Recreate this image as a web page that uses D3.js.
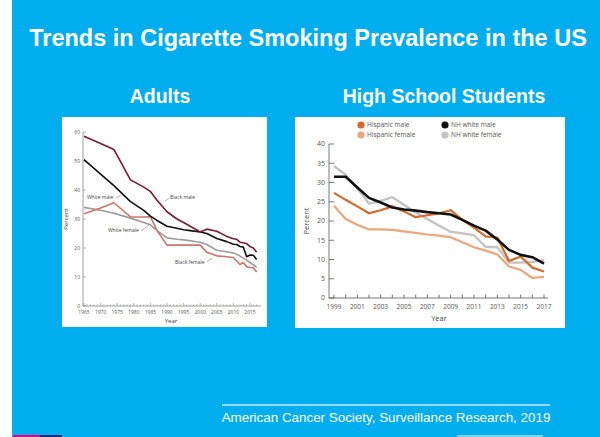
<!DOCTYPE html>
<html>
<head>
<meta charset="utf-8">
<script src="https://cdn.jsdelivr.net/npm/d3@7"></script>
<style>
  body { margin: 0; background: #fff; }
  svg { display: block; }
</style>
</head>
<body>
<svg width="600" height="437"></svg>
<script>
// adults panel (1965-2017)
const adultYears = [1965, 1970, 1974, 1979, 1983, 1985, 1987, 1990, 1993, 1995, 1997, 2000, 2002, 2005, 2008, 2010, 2011, 2012, 2013, 2014, 2015, 2016, 2017];
const blackMale   = [58.5, 56.0, 54.0, 43.5, 41.0, 39.5, 36.5, 32.5, 30.0, 28.8, 27.5, 25.5, 26.5, 25.8, 24.0, 23.2, 23.0, 22.0, 21.8, 21.5, 20.5, 20.0, 18.5];
const whiteMale   = [50.5, 45.5, 41.5, 36.0, 33.0, 31.0, 29.5, 27.5, 26.8, 26.3, 26.0, 25.5, 25.0, 23.3, 22.2, 21.3, 21.2, 20.5, 20.3, 17.0, 17.6, 17.5, 16.0];
const whiteFemale = [34.0, 33.0, 32.0, 30.3, 28.8, 28.0, 26.0, 23.5, 23.0, 22.8, 22.5, 22.0, 21.2, 19.2, 18.7, 18.3, 17.8, 17.2, 16.5, 15.8, 15.0, 14.2, 13.3];
const blackFemale = [31.8, 33.8, 35.6, 30.7, 30.7, 30.8, 26.0, 21.0, 21.0, 21.0, 21.0, 21.0, 18.5, 17.3, 17.0, 16.7, 15.5, 14.3, 15.0, 13.5, 13.3, 13.2, 11.7];
const adultXTicks = [1965, 1970, 1975, 1980, 1985, 1990, 1995, 2000, 2005, 2010, 2015];
const adultYTicks = [0, 10, 20, 30, 40, 50, 60];

// high school panel (1999-2017)
const hsYears = d3.range(1999, 2018);
const hispMale   = [27.3, 25.5, 23.8, 22.0, 22.8, 23.8, 22.5, 21.0, 21.5, 22.0, 22.8, 20.3, 18.3, 16.0, 15.7, 9.6, 10.8, 7.9, 6.9];
const hispFemale = [24.0, 20.5, 19.0, 17.8, 17.8, 17.7, 17.3, 16.9, 16.5, 16.2, 15.8, 14.5, 13.2, 12.3, 11.3, 8.2, 7.3, 5.2, 5.5];
const nhwMale    = [31.5, 31.5, 28.7, 26.0, 24.8, 23.5, 23.0, 22.7, 22.3, 22.0, 21.7, 20.3, 18.8, 17.5, 15.2, 12.5, 11.2, 10.6, 8.9];
const nhwFemale  = [34.3, 32.0, 28.5, 24.5, 25.2, 26.2, 24.2, 22.2, 20.5, 18.8, 17.2, 16.8, 16.3, 13.3, 13.2, 9.2, 9.2, 9.4, 9.8];
const hsXTicks = [1999, 2001, 2003, 2005, 2007, 2009, 2011, 2013, 2015, 2017];
const hsYTicks = [0, 5, 10, 15, 20, 25, 30, 35, 40];

const svg = d3.select("svg");
const chartFont = "'Open Sans', 'DejaVu Sans', sans-serif";
const titleFont = "'Liberation Sans', Arial, sans-serif";

// slide background
svg.append("rect").attr("x", 12).attr("y", 0).attr("width", 588).attr("height", 437).attr("fill", "#00adee");
svg.append("rect").attr("x", 13).attr("y", 435).attr("width", 27).attr("height", 2).attr("fill", "#e4007c");
svg.append("rect").attr("x", 40).attr("y", 435).attr("width", 22).attr("height", 2).attr("fill", "#1d2a7a");
svg.append("rect").attr("x", 457).attr("y", 435).attr("width", 86).attr("height", 2).attr("fill", "#7fd3f5");

svg.append("text").attr("x", 308).attr("y", 46).attr("text-anchor", "middle")
    .attr("font-family", titleFont).attr("font-weight", "bold").attr("font-size", 23.5)
    .attr("fill", "#fff").text("Trends in Cigarette Smoking Prevalence in the US");
svg.append("text").attr("x", 160).attr("y", 103).attr("text-anchor", "middle")
    .attr("font-family", titleFont).attr("font-weight", "bold").attr("font-size", 19.5)
    .attr("fill", "#fff").text("Adults");
svg.append("text").attr("x", 444).attr("y", 103).attr("text-anchor", "middle")
    .attr("font-family", titleFont).attr("font-weight", "bold").attr("font-size", 19.5)
    .attr("fill", "#fff").text("High School Students");

// footer
svg.append("line").attr("x1", 222).attr("x2", 550).attr("y1", 405).attr("y2", 405)
    .attr("stroke", "#c8ecfb").attr("stroke-width", 1.5);
svg.append("text").attr("x", 386).attr("y", 422).attr("text-anchor", "middle")
    .attr("font-family", titleFont).attr("font-size", 13.4).attr("fill", "#fff")
    .text("American Cancer Society, Surveillance Research, 2019");

// white panels
svg.append("rect").attr("x", 62).attr("y", 117).attr("width", 205).attr("height", 210).attr("fill", "#fff");
svg.append("rect").attr("x", 295).attr("y", 117).attr("width", 270).attr("height", 211).attr("fill", "#fff");

// ---------- adults ----------
const ax = d3.scaleLinear().domain([1965, 2015]).range([84, 250]);
const ay = d3.scaleLinear().domain([0, 60]).range([306, 132]);
const adults = svg.append("g");

adults.append("line").attr("x1", 83).attr("x2", 83).attr("y1", ay(60)).attr("y2", ay(0)).attr("stroke", "#888").attr("stroke-width", 0.8);
adults.append("line").attr("x1", 83).attr("x2", 261).attr("y1", ay(0)).attr("y2", ay(0)).attr("stroke", "#888").attr("stroke-width", 0.8);
adults.selectAll(".minor").data(d3.range(1965, 2018)).join("line")
    .attr("x1", d => ax(d)).attr("x2", d => ax(d))
    .attr("y1", ay(0)).attr("y2", d => ay(0) - (d % 5 === 0 ? 3 : 1.6))
    .attr("stroke", "#888").attr("stroke-width", 0.6);
adults.selectAll(".xl").data(adultXTicks).join("text")
    .attr("x", d => ax(d)).attr("y", 314).attr("text-anchor", "middle")
    .attr("font-family", chartFont).attr("font-size", 5).attr("fill", "#555").text(d => d);
adults.selectAll(".yt").data(adultYTicks).join("line")
    .attr("x1", 83).attr("x2", 86).attr("y1", d => ay(d)).attr("y2", d => ay(d))
    .attr("stroke", "#888").attr("stroke-width", 0.6);
adults.selectAll(".yl").data(adultYTicks).join("text")
    .attr("x", 80).attr("y", d => ay(d) + 1.5).attr("text-anchor", "end")
    .attr("font-family", chartFont).attr("font-size", 5).attr("fill", "#555").text(d => d);
adults.append("text").attr("x", 171).attr("y", 323).attr("text-anchor", "middle")
    .attr("font-family", chartFont).attr("font-size", 6).attr("fill", "#444").text("Year");
adults.append("text").attr("transform", "translate(68,219) rotate(-90)").attr("text-anchor", "middle")
    .attr("font-family", chartFont).attr("font-size", 6).attr("fill", "#444").text("Percent");

const adultLine = d3.line().x((d, i) => ax(adultYears[i])).y(d => ay(d));
[[whiteFemale, "#9a9a9a"], [blackFemale, "#c8776f"], [whiteMale, "#111"], [blackMale, "#7a1a2c"]]
  .forEach(([vals, col]) => {
    adults.append("path").datum(vals).attr("d", adultLine)
        .attr("fill", "none").attr("stroke", col).attr("stroke-width", 1.6).attr("stroke-linejoin", "round");
  });

// series labels with leader lines
const adultLabels = [
  { text: "White male", x: 87, y: 199, lx1: 116, ly1: 198, lx2: 121, ly2: 195 },
  { text: "Black male", x: 170, y: 199, lx1: 169, ly1: 198, lx2: 165, ly2: 201 },
  { text: "White female", x: 108, y: 232, lx1: 141, ly1: 231, lx2: 149, ly2: 225 },
  { text: "Black female", x: 175, y: 264, lx1: 207, ly1: 262, lx2: 212, ly2: 258 }
];
adults.selectAll(".lab").data(adultLabels).join("text")
    .attr("x", d => d.x).attr("y", d => d.y)
    .attr("font-family", chartFont).attr("font-size", 5).attr("fill", "#444").text(d => d.text);
adults.selectAll(".lead").data(adultLabels).join("line")
    .attr("x1", d => d.lx1).attr("y1", d => d.ly1).attr("x2", d => d.lx2).attr("y2", d => d.ly2)
    .attr("stroke", "#666").attr("stroke-width", 0.5);

// ---------- high school ----------
const hx = d3.scaleLinear().domain([1999, 2017]).range([334, 544]);
const hy = d3.scaleLinear().domain([0, 40]).range([298, 144]);
const hs = svg.append("g");

hs.append("line").attr("x1", 329).attr("x2", 329).attr("y1", hy(40)).attr("y2", hy(0)).attr("stroke", "#555").attr("stroke-width", 0.8);
hs.append("line").attr("x1", 329).attr("x2", 548).attr("y1", hy(0)).attr("y2", hy(0)).attr("stroke", "#555").attr("stroke-width", 0.8);
hs.selectAll(".xt").data(hsYears).join("line")
    .attr("x1", d => hx(d)).attr("x2", d => hx(d)).attr("y1", hy(0)).attr("y2", hy(0) - 3.5)
    .attr("stroke", "#555").attr("stroke-width", 0.8);
hs.selectAll(".xl").data(hsXTicks).join("text")
    .attr("x", d => hx(d)).attr("y", 309).attr("text-anchor", "middle")
    .attr("font-family", chartFont).attr("font-size", 6.5).attr("fill", "#555").text(d => d);
hs.selectAll(".yt").data(hsYTicks).join("line")
    .attr("x1", 329).attr("x2", 334).attr("y1", d => hy(d)).attr("y2", d => hy(d))
    .attr("stroke", "#555").attr("stroke-width", 0.8);
hs.selectAll(".yl").data(hsYTicks).join("text")
    .attr("x", 325).attr("y", d => hy(d) + 2.3).attr("text-anchor", "end")
    .attr("font-family", chartFont).attr("font-size", 7).attr("fill", "#555").text(d => d);
hs.append("text").attr("x", 439).attr("y", 321).attr("text-anchor", "middle")
    .attr("font-family", chartFont).attr("font-size", 7.5).attr("fill", "#444").text("Year");
hs.append("text").attr("transform", "translate(309,221) rotate(-90)").attr("text-anchor", "middle")
    .attr("font-family", chartFont).attr("font-size", 7.5).attr("fill", "#444").text("Percent");

const hsSeries = [
  { name: "Hispanic female", vals: hispFemale, col: "#eba67c", w: 2.2 },
  { name: "NH white female", vals: nhwFemale, col: "#c4c4c4", w: 2.4 },
  { name: "Hispanic male", vals: hispMale, col: "#d5692c", w: 2.2 },
  { name: "NH white male", vals: nhwMale, col: "#111", w: 2.6 }
];
const hsLine = d3.line().x((d, i) => hx(hsYears[i])).y(d => hy(d));
hsSeries.forEach(s => {
  hs.append("path").datum(s.vals).attr("d", hsLine)
      .attr("fill", "none").attr("stroke", s.col).attr("stroke-width", s.w).attr("stroke-linejoin", "round");
});

// legend
const legendItems = [
  { name: "Hispanic male", col: "#d5692c", x: 361, y: 125 },
  { name: "Hispanic female", col: "#eba67c", x: 361, y: 135 },
  { name: "NH white male", col: "#111", x: 445, y: 125 },
  { name: "NH white female", col: "#c4c4c4", x: 445, y: 135 }
];
const lg = hs.selectAll(".lg").data(legendItems).join("g")
    .attr("transform", d => `translate(${d.x},${d.y})`);
lg.append("circle").attr("r", 3.6).attr("fill", d => d.col);
lg.append("text").attr("x", 6).attr("y", 2.2)
    .attr("font-family", chartFont).attr("font-size", 6.5).attr("fill", "#555").text(d => d.name);
</script>
</body>
</html>
